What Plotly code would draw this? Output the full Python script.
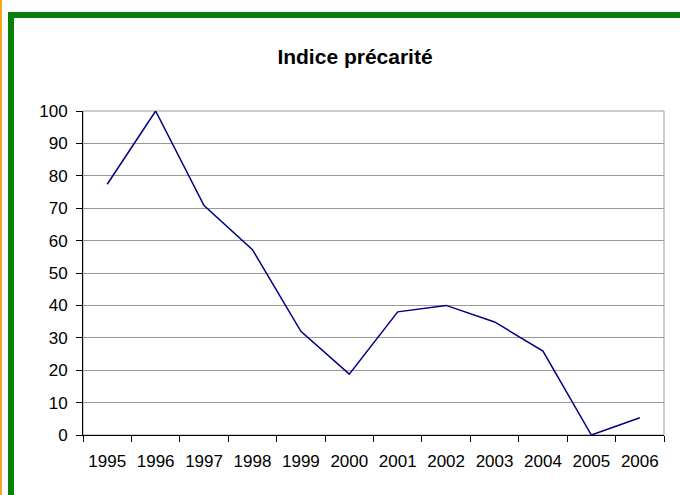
import plotly.graph_objects as go

# Série annuelle de l'indice de précarité
years = ["1995", "1996", "1997", "1998", "1999", "2000",
         "2001", "2002", "2003", "2004", "2005", "2006"]
indice = [77.4, 100, 70.8, 57.2, 32.0, 18.8, 38.0, 40.0, 34.9, 25.9, 0, 5.3]
y_ticks = [0, 10, 20, 30, 40, 50, 60, 70, 80, 90, 100]

W, H = 680, 495
L, R, T, B = 83, 16, 111, 60
PW, PH = W - L - R, H - T - B


def px_x(px):
    return (px - L) / PW


def px_y(py):
    return (H - B - py) / PH


fig = go.Figure(
    go.Scatter(
        x=years,
        y=indice,
        mode="lines",
        line=dict(color="#000080", width=1.5),
        hoverinfo="x+y",
    )
)

font = dict(family="Liberation Sans, Arial, sans-serif", color="#000000")

shapes = [
    # plot-area frame (grey)
    dict(type="rect", xref="paper", yref="paper", x0=0, x1=1, y0=0, y1=1,
         line=dict(color="#999999", width=1), layer="below"),
    # green frame around the chart
    dict(type="rect", xref="paper", yref="paper",
         x0=px_x(8), x1=px_x(W + 2), y0=px_y(18), y1=px_y(12),
         fillcolor="#078007", line=dict(width=0)),
    dict(type="rect", xref="paper", yref="paper",
         x0=px_x(8), x1=px_x(14), y0=px_y(H + 2), y1=px_y(12),
         fillcolor="#078007", line=dict(width=0)),
    # thin orange line along the left edge
    dict(type="rect", xref="paper", yref="paper",
         x0=px_x(0), x1=px_x(2), y0=px_y(H + 2), y1=px_y(-2),
         fillcolor="#f6a623", line=dict(width=0)),
]

fig.update_layout(
    width=W,
    height=H,
    margin=dict(l=L, r=R, t=T, b=B, pad=0, autoexpand=False),
    paper_bgcolor="#ffffff",
    plot_bgcolor="#ffffff",
    showlegend=False,
    font=dict(size=17, **font),
    title=dict(
        text="<b>Indice précarité</b>",
        x=355 / W, xanchor="center",
        y=1 - 57 / H, yanchor="middle",
        xref="container", yref="container",
        font=dict(size=21, **font),
    ),
    shapes=shapes,
    xaxis=dict(
        type="category",
        categoryorder="array",
        categoryarray=years,
        range=[-0.5, len(years) - 0.5],
        automargin=False,
        showgrid=False,
        zeroline=False,
        showline=True,
        linecolor="#000000",
        linewidth=1,
        ticks="outside",
        ticklen=6,
        tickcolor="#000000",
        tickson="boundaries",
        tickfont=dict(size=17, **font),
        ticklabelstandoff=11,
    ),
    yaxis=dict(
        range=[0, 100],
        automargin=False,
        tickvals=y_ticks,
        ticktext=[str(v) for v in y_ticks],
        showgrid=True,
        gridcolor="#999999",
        gridwidth=1,
        zeroline=False,
        showline=True,
        linecolor="#000000",
        linewidth=1,
        ticks="outside",
        ticklen=6,
        tickcolor="#000000",
        tickfont=dict(size=17, **font),
        ticklabelstandoff=5,
    ),
)

fig.write_html("out.html")
